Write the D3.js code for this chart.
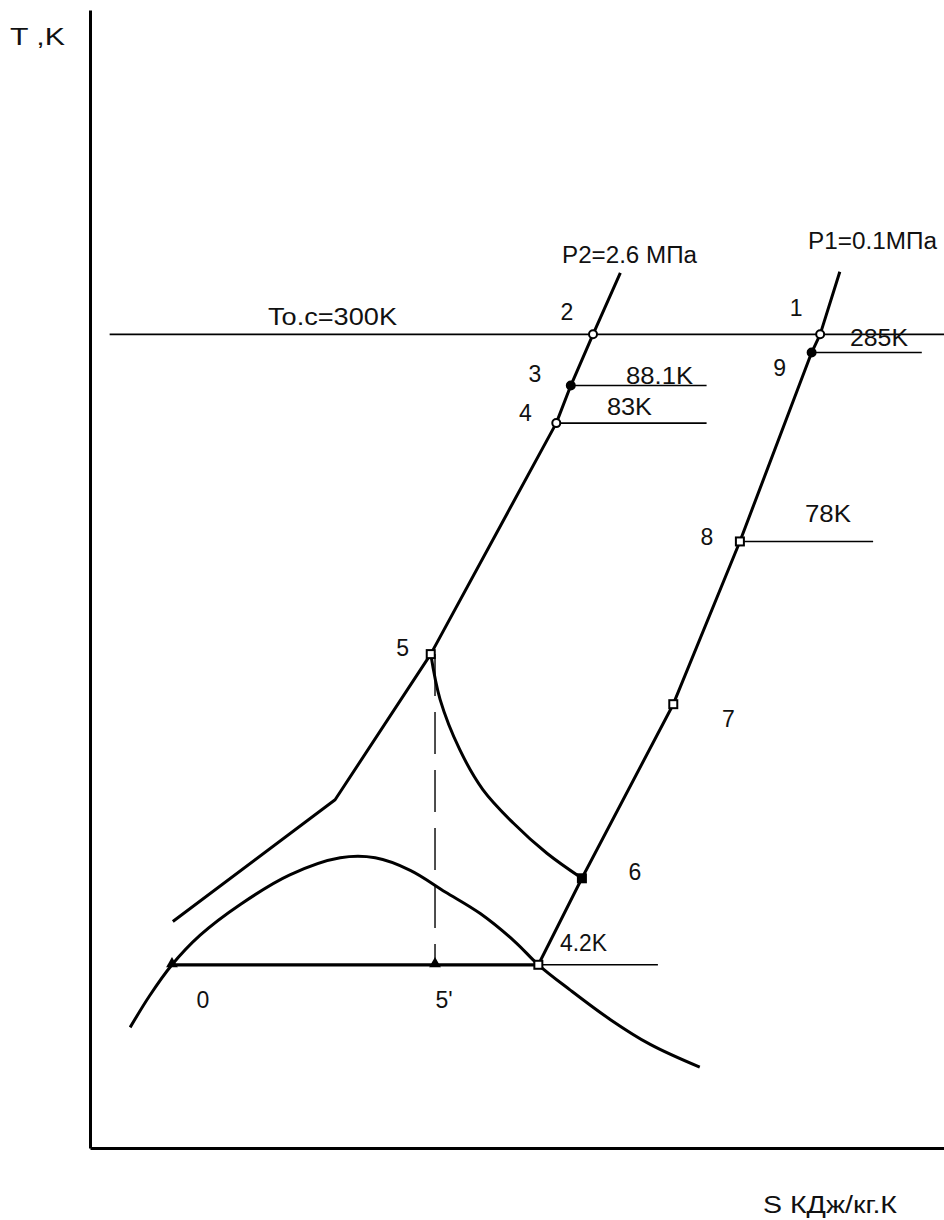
<!DOCTYPE html>
<html>
<head>
<meta charset="utf-8">
<script src="https://cdn.jsdelivr.net/npm/d3@7"></script>
<style>
  body { margin: 0; background: #fff; }
  svg { display: block; }
  text { font-family: "Liberation Sans", Arial, sans-serif; fill: #111; font-size: 23px; }
</style>
</head>
<body>
<svg id="chart" width="944" height="1220"></svg>
<script>
// T–S diagram of a helium liquefaction cycle (schematic, diagram units 0..10)

// Cycle state points
const pointNames = ["1", "2", "3", "4", "5", "5'", "0", "4.2K", "6", "7", "8", "9"];
const pointS     = [8.55, 5.89, 5.63, 5.46, 3.99, 4.04, 0.96, 5.25, 5.76, 6.83, 7.61, 8.45];
const pointT     = [7.15, 7.15, 6.70, 6.37, 4.34, 1.61, 1.61, 1.61, 2.37, 3.90, 5.33, 6.99];
const pointMark  = ["oc", "oc", "fc", "oc", "os", "ft", "ft", "os", "fs", "os", "os", "fc"];

// High-pressure isobar P2 = 2.6 MPa
const isobarP2S = [6.21, 5.89, 5.63, 5.46, 3.99];
const isobarP2T = [7.69, 7.15, 6.70, 6.37, 4.34];

// Low-pressure isobar P1 = 0.1 MPa
const isobarP1S = [8.78, 8.55, 8.45, 7.61, 6.83, 5.76, 5.25];
const isobarP1T = [7.70, 7.15, 6.99, 5.33, 3.90, 2.37, 1.61];

// Continuation of P2 below point 5
const liquidS = [3.99, 2.87, 0.97];
const liquidT = [4.34, 3.06, 1.99];

// Throttling curve 5 -> 6
const throttleS = [3.99, 4.10, 4.33, 4.60, 4.95, 5.35, 5.76];
const throttleT = [4.34, 3.94, 3.50, 3.15, 2.86, 2.59, 2.37];

// Saturation dome
const domeS = [0.47, 0.70, 0.96, 1.29, 1.76, 2.34, 2.93, 3.34, 3.75, 4.16, 4.57, 4.98, 5.25, 5.62, 6.09, 6.56, 7.14];
const domeT = [1.06, 1.34, 1.61, 1.87, 2.14, 2.40, 2.55, 2.55, 2.44, 2.25, 2.06, 1.81, 1.61, 1.39, 1.13, 0.91, 0.71];

// Isotherms
const isoLabels = ["To.c=300K", "285K", "88.1K", "83K", "78K", "4.2K"];
const isoT      = [7.15, 6.99, 6.70, 6.37, 5.33, 1.61];
const isoFromS  = [0.23, 8.45, 5.63, 5.46, 7.61, 5.30];
const isoToS    = [10.0, 9.74, 7.22, 7.22, 9.17, 6.65];

// Isobar captions
const isobarLabels = ["P2=2.6 МПа", "P1=0.1МПа"];

// Axis titles
const axisTitleT = "T ,K";
const axisTitleS = "S КДж/кг.К";

// ---- layout ----
const x = d3.scaleLinear().domain([0, 10]).range([90, 944]);
const y = d3.scaleLinear().domain([0, 10]).range([1148, 10]);

// label offsets from their point (px)
const pointLabelOffset = {
  "1": [-24, -26], "2": [-26, -22], "3": [-36, -12], "4": [-31, -10],
  "5": [-28, -6], "5'": [9, 35], "0": [31, 35], "4.2K": null,
  "6": [53, -6], "7": [55, 15], "8": [-33, -4], "9": [-32, 15]
};
const isoLabelX   = [268, 850, 626, 607, 805, 560];
const isoLabelDy  = [-17, -15, -10, -16, -27, -22];
const isoLabelLen = [129, 58, 67, 45, 46, 47];

const svg = d3.select("#chart");

// Axes (plain lines, no ticks)
svg.append("g")
  .attr("transform", `translate(0,${y(0)})`)
  .call(d3.axisBottom(x).tickValues([]).tickSizeOuter(0))
  .call(g => g.select(".domain").attr("stroke", "#000").attr("stroke-width", 3));
svg.append("g")
  .attr("transform", `translate(${x(0)},0)`)
  .call(d3.axisLeft(y).tickValues([]).tickSizeOuter(0))
  .call(g => g.select(".domain").attr("stroke", "#000").attr("stroke-width", 3));

const label = (tx, ty, str, len) => {
  const t = svg.append("text").attr("x", tx).attr("y", ty)
    .attr("dominant-baseline", "central").text(str);
  if (len) t.attr("textLength", len).attr("lengthAdjust", "spacingAndGlyphs");
  return t;
};

label(10, 37, axisTitleT, 55);
label(763, 1205, axisTitleS, 134);

const zip = (a, b) => a.map((v, i) => [v, b[i]]);
const lineLin = d3.line().x(d => x(d[0])).y(d => y(d[1]));
const lineSmooth = d3.line().x(d => x(d[0])).y(d => y(d[1])).curve(d3.curveCatmullRom.alpha(0.5));

// Isotherm lines
isoT.forEach((t, i) => {
  svg.append("line")
    .attr("x1", x(isoFromS[i])).attr("x2", x(isoToS[i]))
    .attr("y1", y(t)).attr("y2", y(t))
    .attr("stroke", "#000").attr("stroke-width", 1.6);
  label(isoLabelX[i], y(t) + isoLabelDy[i], isoLabels[i], isoLabelLen[i]);
});

// Boiling line 0 -> 4.2K (thick)
const iZero = pointNames.indexOf("0"), iBoil = pointNames.indexOf("4.2K");
svg.append("line")
  .attr("x1", x(pointS[iZero])).attr("x2", x(pointS[iBoil]))
  .attr("y1", y(pointT[iZero])).attr("y2", y(pointT[iBoil]))
  .attr("stroke", "#000").attr("stroke-width", 3.2);

// Dashed vertical 5 -> 5'
const i5 = pointNames.indexOf("5"), i5p = pointNames.indexOf("5'");
svg.append("line")
  .attr("x1", x(pointS[i5p])).attr("x2", x(pointS[i5p]))
  .attr("y1", y(pointT[i5])).attr("y2", y(pointT[i5p]))
  .attr("stroke", "#222").attr("stroke-width", 1.6)
  .attr("stroke-dasharray", "42,16");

// Curves
const curveStyle = p => p.attr("fill", "none").attr("stroke", "#000").attr("stroke-width", 3).attr("stroke-linejoin", "round");
svg.append("path").attr("d", lineSmooth(zip(domeS, domeT))).call(curveStyle);
svg.append("path").attr("d", lineLin(zip(isobarP2S, isobarP2T))).call(curveStyle);
svg.append("path").attr("d", lineLin(zip(isobarP1S, isobarP1T))).call(curveStyle);
svg.append("path").attr("d", lineLin(zip(liquidS, liquidT))).call(curveStyle);
svg.append("path").attr("d", lineSmooth(zip(throttleS, throttleT))).call(curveStyle);

// Isobar captions at the top end of each isobar
label(562, 255, isobarLabels[0], 135);
label(808, 241, isobarLabels[1], 129);

// Point markers and numbers
pointNames.forEach((name, i) => {
  const px = x(pointS[i]), py = y(pointT[i]);
  const m = pointMark[i];
  if (m === "oc" || m === "fc") {
    svg.append("circle").attr("cx", px).attr("cy", py).attr("r", 4)
      .attr("fill", m === "fc" ? "#000" : "#fff").attr("stroke", "#000").attr("stroke-width", 2);
  } else if (m === "os" || m === "fs") {
    svg.append("rect").attr("x", px - 4).attr("y", py - 4).attr("width", 8).attr("height", 8)
      .attr("fill", m === "fs" ? "#000" : "#fff").attr("stroke", "#000").attr("stroke-width", 2);
  } else if (m === "ft") {
    svg.append("path")
      .attr("d", d3.symbol(d3.symbolTriangle, 60)())
      .attr("transform", `translate(${px},${py - 1})`)
      .attr("fill", "#000");
  }
  const off = pointLabelOffset[name];
  if (off) {
    svg.append("text")
      .attr("x", px + off[0]).attr("y", py + off[1])
      .attr("text-anchor", "middle").attr("dominant-baseline", "central")
      .text(name);
  }
});
</script>
</body>
</html>
